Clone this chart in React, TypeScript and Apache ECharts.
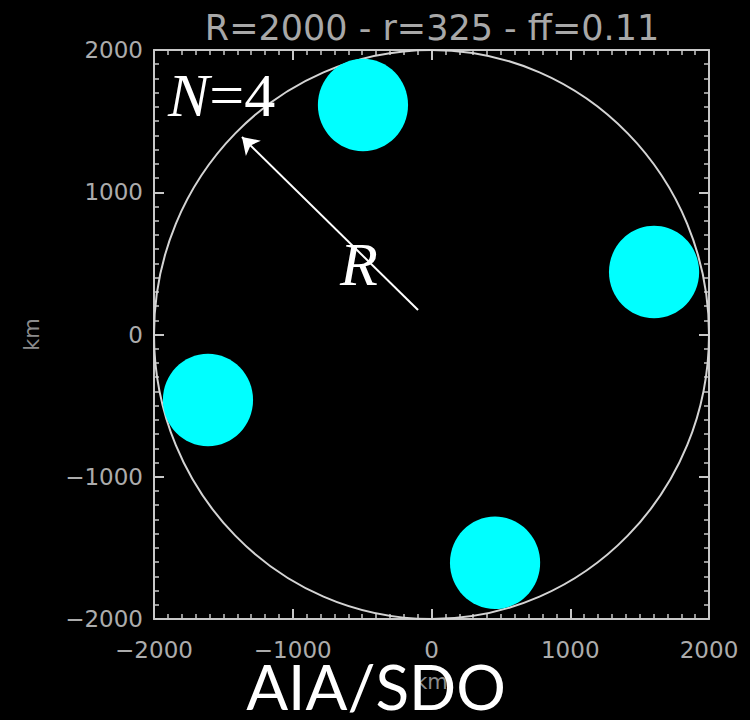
import React, { useEffect, useRef } from "react";
import * as echarts from "echarts";

const titleText = "R=2000 - r=325 - ff=0.11";
const axisName = "km";
const bigRadius = 2000;
const spotRadius = 325;
const spotX = [-494, 1604, -1611, 458];
const spotY = [1613, 439, -460, -1605];
const arrowFrom = [-97, 172];
const arrowTo = [-1366, 1388];
const axisMin = -2000;
const axisMax = 2000;
const axisStep = 1000;

const AXIS_COLOR = "#c8c8c8";
const LABEL_COLOR = "#acacac";

function makeAxis(kind: "x" | "y", position: string, showLabel: boolean): any {
  return {
    type: "value",
    position,
    min: axisMin,
    max: axisMax,
    interval: axisStep,
    name: showLabel ? axisName : "",
    nameLocation: "middle",
    nameGap: kind === "x" ? 52 : 112,
    nameTextStyle: { color: "#8c8c8c", fontSize: 21, fontFamily: "DejaVu Sans" },
    axisLine: { show: true, onZero: false, lineStyle: { color: AXIS_COLOR, width: 2 } },
    axisTick: { show: true, inside: true, length: 10, lineStyle: { color: AXIS_COLOR, width: 2 } },
    minorTick: { show: true, splitNumber: 10, length: 5, lineStyle: { color: AXIS_COLOR, width: 1.5 } },
    axisLabel: {
      show: showLabel,
      color: LABEL_COLOR,
      fontSize: 23,
      fontFamily: "DejaVu Sans",
      margin: kind === "x" ? 19 : 11,
      formatter: (v: number) => (v < 0 ? "\u2212" + Math.abs(v) : String(v)),
    },
    splitLine: { show: false },
  };
}

export default function App() {
  const ref = useRef<HTMLDivElement>(null);
  useEffect(() => {
    if (!ref.current) return;
    const chart = echarts.init(ref.current, null, { renderer: "svg" });
    const spots = spotX.map((x, i) => [x, spotY[i], spotRadius]);
    chart.setOption({
      animation: false,
      backgroundColor: "#000",
      title: {
        text: titleText,
        left: 427,
        top: 5,
        textAlign: "center",
        textStyle: { color: "#a8a8a8", fontSize: 35, fontWeight: "normal", fontFamily: "DejaVu Sans" },
      },
      grid: { left: 154, right: 41, top: 50, bottom: 101, containLabel: false, outerBoundsMode: "none" },
      xAxis: [makeAxis("x", "bottom", true), makeAxis("x", "top", false)],
      yAxis: [makeAxis("y", "left", true), makeAxis("y", "right", false)],
      series: [
        {
          type: "custom",
          name: "circle",
          coordinateSystem: "cartesian2d",
          data: [[0, 0, bigRadius]],
          silent: true,
          z: 2,
          renderItem: (params: any, api: any) => {
            const c = api.coord([api.value(0), api.value(1)]);
            const r = api.value(2);
            const sx = api.size([r, 0])[0];
            const sy = api.size([0, r])[1];
            return {
              type: "ellipse",
              shape: { cx: c[0], cy: c[1], rx: sx, ry: sy },
              style: { fill: "none", stroke: "#d4d4d4", lineWidth: 2 },
            };
          },
        },
        {
          type: "custom",
          name: "spots",
          coordinateSystem: "cartesian2d",
          data: spots,
          silent: true,
          z: 3,
          renderItem: (params: any, api: any) => {
            const c = api.coord([api.value(0), api.value(1)]);
            const r = api.value(2);
            const sx = api.size([r, 0])[0];
            const sy = api.size([0, r])[1];
            return {
              type: "ellipse",
              shape: { cx: c[0], cy: c[1], rx: sx, ry: sy },
              style: { fill: "#00ffff", stroke: "none" },
            };
          },
        },
        {
          type: "lines",
          coordinateSystem: "cartesian2d",
          z: 4,
          symbol: ["none", "arrow"],
          symbolSize: [10, 16],
          lineStyle: { color: "#ffffff", width: 2, opacity: 1 },
          data: [{ coords: [arrowFrom, arrowTo] }],
        },
      ],
      graphic: [
        {
          type: "text",
          left: 168,
          top: 64,
          z: 10,
          style: {
            text: "{n|N}=4",
            fill: "#ffffff",
            fontSize: 62,
            fontFamily: "Liberation Serif",
            rich: { n: { fontStyle: "italic", fontSize: 62, fontFamily: "Liberation Serif", fill: "#ffffff" } },
          },
        },
        {
          type: "text",
          left: 340,
          top: 233,
          z: 10,
          style: { text: "R", fill: "#ffffff", fontSize: 62, fontStyle: "italic", fontFamily: "Liberation Serif" },
        },
        {
          type: "text",
          x: 376,
          y: 686,
          z: 20,
          style: {
            text: "AIA/SDO",
            fill: "#ffffff",
            fontSize: 62,
            fontFamily: "Lato",
            fontWeight: "normal",
            align: "center",
            verticalAlign: "middle",
          },
        },
      ],
    });
    return () => chart.dispose();
  }, []);
  return <div ref={ref} style={{ position: "fixed", left: 0, top: 0, width: 750, height: 720 }} />;
}
